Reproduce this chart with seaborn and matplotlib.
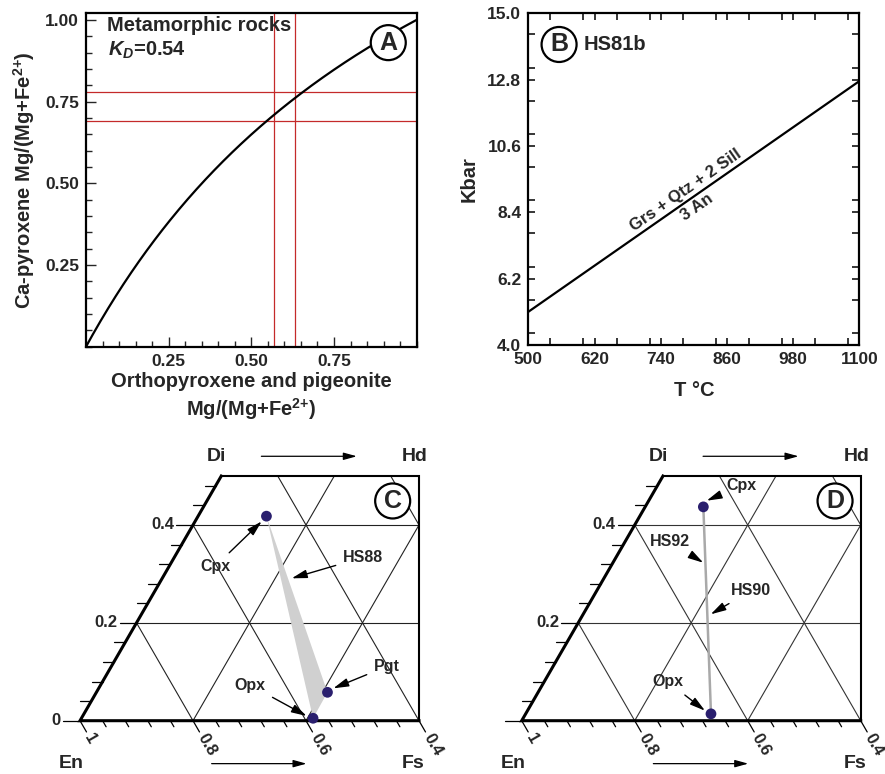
import numpy as np
import pandas as pd
import matplotlib
matplotlib.use("Agg")
import matplotlib.pyplot as plt
from matplotlib.ticker import MultipleLocator, FixedLocator, FormatStrFormatter
import seaborn as sns

# ---------------- data ----------------
# (A) Mg-Fe partitioning between Ca-pyroxene and low-Ca pyroxene
KD = 0.54
opx_mg_obs = [0.567, 0.633]          # vertical guide lines
cpx_mg_obs = [0.689, 0.780]          # horizontal guide lines
a_ticks_x = [0.25, 0.50, 0.75]
a_ticks_y = [0.25, 0.50, 0.75, 1.00]

# (B) Grs + Qtz + 2 Sill = 3 An reaction line (HS81b)
T_C = [500, 1100]
P_kbar = [5.10, 12.75]
b_ticks_x = [500, 620, 740, 860, 980, 1100]
b_ticks_y = [4.0, 6.2, 8.4, 10.6, 12.8, 15.0]

# (C) HS88 pyroxene compositions (Wo and Fs mole fractions)
hs88_phase = ["Cpx", "Opx", "Pgt"]
hs88_wo = [0.418, 0.005, 0.058]
hs88_fs = [0.121, 0.410, 0.409]

# (D) HS90 / HS92 pyroxene compositions
hs90_phase = ["Cpx", "Opx"]
hs90_wo = [0.437, 0.014]
hs90_fs = [0.103, 0.328]

# quadrilateral axes labels
wo_labels = [0.2, 0.4]
en_labels = ["1", "0.8", "0.6", "0.4"]

MG_FE = "Mg/(Mg+Fe$^{2{+}}$)"

# ---------------- style ----------------
sns.set_style("ticks")
plt.rcParams.update({
    "font.family": ["Liberation Sans", "DejaVu Sans"],
    "font.weight": "bold",
    "axes.labelweight": "bold",
    "mathtext.fontset": "custom",
    "mathtext.rm": "Liberation Sans:bold",
    "mathtext.bf": "Liberation Sans:bold",
    "mathtext.it": "Liberation Sans:italic:bold",
    "mathtext.default": "regular",
    "axes.linewidth": 1.6,
    "axes.edgecolor": "black",
})

W, H = 885, 774
fig = plt.figure(figsize=(W / 100, H / 100), dpi=100)


def px_axes(left, top, right, bottom):
    return fig.add_axes([left / W, 1 - bottom / H, (right - left) / W, (bottom - top) / H])


def circle_label(ax, x, y, s, transform):
    ax.text(x, y, s, transform=transform, ha="center", va="center",
            fontsize=18, fontweight="bold", zorder=10,
            bbox=dict(boxstyle="circle,pad=0.22", fc="white", ec="black", lw=1.6))


TICK_FS = 12.5
LABEL_FS = 14.5

# ---------------- panel A ----------------
axA = px_axes(86, 13.3, 416.7, 346.7)
opx_mg = np.linspace(0.0, 1.0, 300)
cpx_mg = opx_mg / (opx_mg + KD * (1 - opx_mg))
sns.lineplot(x=opx_mg, y=cpx_mg, ax=axA, color="black", lw=1.6, zorder=3)
for v in opx_mg_obs:
    axA.axvline(v, color="#c42a2a", lw=0.9, zorder=2)
for h in cpx_mg_obs:
    axA.axhline(h, color="#c42a2a", lw=0.9, zorder=2)
axA.set_xlim(0, 1.0)
axA.set_ylim(0, 1.02)
axA.xaxis.set_major_locator(FixedLocator(a_ticks_x))
axA.yaxis.set_major_locator(FixedLocator(a_ticks_y))
axA.xaxis.set_minor_locator(MultipleLocator(0.05))
axA.yaxis.set_minor_locator(MultipleLocator(0.05))
axA.xaxis.set_major_formatter(FormatStrFormatter("%.2f"))
axA.yaxis.set_major_formatter(FormatStrFormatter("%.2f"))
axA.tick_params(which="both", direction="in", top=False, right=False,
                labelsize=TICK_FS, width=1.0, pad=5)
axA.tick_params(which="major", length=7)
axA.tick_params(which="minor", length=4)
for lab in axA.get_xticklabels() + axA.get_yticklabels():
    lab.set_fontweight("bold")
axA.set_xlabel("Orthopyroxene and pigeonite\n" + MG_FE, fontsize=LABEL_FS,
               fontweight="bold", linespacing=1.25)
axA.xaxis.set_label_coords(0.5, -0.075)
axA.xaxis.label.set_va("top")
axA.set_ylabel("Ca-pyroxene " + MG_FE, fontsize=LABEL_FS, fontweight="bold")
axA.yaxis.set_label_coords(-0.148, 0.5)
axA.text(0.064, 0.962, "Metamorphic rocks", transform=axA.transAxes, fontsize=LABEL_FS,
         fontweight="bold", ha="left", va="center")
axA.text(0.066, 0.888, r"$\mathit{K}_{\mathit{D}}$=0.54", transform=axA.transAxes,
         fontsize=LABEL_FS, fontweight="bold", ha="left", va="center")
circle_label(axA, 0.914, 0.912, "A", axA.transAxes)

# ---------------- panel B ----------------
axB = px_axes(528.3, 13.3, 859.3, 345)
sns.lineplot(x=T_C, y=P_kbar, ax=axB, color="black", lw=1.6)
axB.set_xlim(500, 1100)
axB.set_ylim(4.0, 15.0)
axB.xaxis.set_major_locator(FixedLocator(b_ticks_x))
axB.yaxis.set_major_locator(FixedLocator(b_ticks_y))
axB.xaxis.set_minor_locator(MultipleLocator(60))
axB.yaxis.set_minor_locator(MultipleLocator(1.1))
axB.yaxis.set_major_formatter(FormatStrFormatter("%.1f"))
axB.tick_params(which="both", direction="in", top=True, right=True,
                labelsize=TICK_FS, width=1.3, length=5, pad=5)
for lab in axB.get_xticklabels() + axB.get_yticklabels():
    lab.set_fontweight("bold")
axB.set_xlabel("T °C", fontsize=LABEL_FS, fontweight="bold")
axB.xaxis.set_label_coords(0.5, -0.108)
axB.xaxis.label.set_va("top")
axB.set_ylabel("Kbar", fontsize=LABEL_FS, fontweight="bold")
axB.yaxis.set_label_coords(-0.15, 0.5)

p0 = axB.transData.transform((T_C[0], P_kbar[0]))
p1 = axB.transData.transform((T_C[1], P_kbar[1]))
ang = np.degrees(np.arctan2(p1[1] - p0[1], p1[0] - p0[0]))
t_lab = 795
p_lab = np.interp(t_lab, T_C, P_kbar)
nx, ny = -np.sin(np.radians(ang)), np.cos(np.radians(ang))
axB.annotate("Grs + Qtz + 2 Sill", xy=(t_lab, p_lab), xytext=(1.5 * nx, 1.5 * ny),
             textcoords="offset points", rotation=ang, rotation_mode="anchor",
             ha="center", va="bottom", fontsize=12, fontweight="bold")
axB.annotate("3 An", xy=(t_lab, p_lab), xytext=(-2 * nx, -2 * ny),
             textcoords="offset points", rotation=ang, rotation_mode="anchor",
             ha="center", va="top", fontsize=12, fontweight="bold")
circle_label(axB, 0.093, 0.906, "B", axB.transAxes)
axB.text(0.166, 0.9045, "HS81b", transform=axB.transAxes, fontsize=LABEL_FS,
         fontweight="bold", ha="left", va="center")

# ---------------- pyroxene quadrilateral helpers ----------------
S3 = np.sqrt(3) / 2
UNIT = 565.0  # pixels per composition unit


def to_xy(wo, fs):
    wo = np.asarray(wo, dtype=float)
    fs = np.asarray(fs, dtype=float)
    return fs + wo / 2, wo * S3


def quad_axes(ox, oy, left, right, top=420, bottom=774):
    ax = px_axes(left, top, right, bottom)
    ax.set_xlim((left - ox) / UNIT, (right - ox) / UNIT)
    ax.set_ylim((oy - bottom) / UNIT, (oy - top) / UNIT)
    ax.set_axis_off()
    return ax


def draw_quad(ax, show_zero, grid_color="#222222"):
    kw = dict(color=grid_color, lw=0.8, zorder=1, solid_capstyle="butt")
    # constant Wo
    for w in wo_labels:
        x0, y0 = to_xy(w, 0)
        ax.plot([x0, 0.6], [y0, y0], **kw)
    # constant Fs
    for f in [0.2, 0.4]:
        wmax = min(0.5, 2 * (0.6 - f))
        xs, ys = to_xy([0, wmax], [f, f])
        ax.plot(xs, ys, **kw)
    # constant En
    for e in [0.8, 0.6, 0.4, 0.2]:
        s = 1 - e
        if s <= 0.6:
            w0, f0 = 0.0, s
        else:
            w0 = 2 * (s - 0.6)
            f0 = s - w0
        w1 = min(s, 0.5)
        f1 = s - w1
        xs, ys = to_xy([w0, w1], [f0, f1])
        ax.plot(xs, ys, **kw)
    # outline
    top_y = 0.5 * S3
    ax.plot([0.25, 0.0, 0.6], [top_y, 0.0, 0.0], color="black", lw=2.2, zorder=4,
            solid_joinstyle="miter", solid_capstyle="projecting")
    ax.plot([0.25, 0.6, 0.6], [top_y, top_y, 0.0], color="black", lw=1.5, zorder=4,
            solid_joinstyle="miter")
    # Wo ticks along the left edge
    for k in range(0, 13):
        w = round(0.04 * k, 2)
        x0, y0 = to_xy(w, 0)
        labelled = any(abs(w - v) < 1e-6 for v in wo_labels) or k == 0
        L = (17 if labelled else 11) / UNIT
        ax.plot([x0 - L, x0], [y0, y0], color="black", lw=0.9, zorder=4, clip_on=False)
        if labelled and (k > 0 or show_zero):
            txt = "0" if k == 0 else f"{w:.1f}"
            ax.text(x0 - L - 2 / UNIT, y0, txt, ha="right", va="center",
                    fontsize=12, fontweight="bold")
    # En ticks along the base
    dx, dy = 0.5, -S3
    for k in range(0, 16):
        f = round(0.04 * k, 2)
        labelled = k % 5 == 0
        L = (13 if labelled else 7) / UNIT
        ax.plot([f, f + dx * L], [0, dy * L], color="black", lw=0.9, zorder=4, clip_on=False)
        if labelled:
            g = (L * UNIT + 3) / UNIT
            ax.text(f + dx * g, dy * g, en_labels[k // 5], rotation=-60,
                    rotation_mode="anchor", ha="left", va="center",
                    fontsize=12, fontweight="bold")
    # end-member labels and arrows
    ax.text(0.242, 0.468, "Di", ha="center", va="center", fontsize=14, fontweight="bold")
    ax.text(0.593, 0.468, "Hd", ha="center", va="center", fontsize=14, fontweight="bold")
    ax.text(-0.015, -0.075, "En", ha="center", va="center", fontsize=14, fontweight="bold")
    ax.text(0.590, -0.075, "Fs", ha="center", va="center", fontsize=14, fontweight="bold")
    ar = dict(arrowstyle="-|>,head_length=0.8,head_width=0.22", color="black", lw=0.9,
              shrinkA=0, shrinkB=0)
    ax.annotate("", xy=(0.490, 0.468), xytext=(0.321, 0.468), arrowprops=ar)
    ax.annotate("", xy=(0.401, -0.076), xytext=(0.233, -0.076), arrowprops=ar)


def note(ax, text, text_xy, tip_xy):
    ax.annotate(text, xy=tip_xy, xytext=text_xy, ha="center", va="center",
                fontsize=11.5, fontweight="bold", zorder=6,
                arrowprops=dict(arrowstyle="-|>,head_length=0.8,head_width=0.22",
                                color="black", lw=1.0, shrinkA=3, shrinkB=0))


POINT_COLOR = "#2a1f6e"

# ---------------- panel C ----------------
axC = quad_axes(80, 720.7, 0, 440)
draw_quad(axC, show_zero=True)
cx, cy = to_xy(hs88_wo, hs88_fs)
dfC = pd.DataFrame({"x": cx, "y": cy, "phase": hs88_phase})
axC.fill(dfC["x"], dfC["y"], color="#d0d0d0", lw=0, zorder=2)
sns.scatterplot(data=dfC, x="x", y="y", ax=axC, color=POINT_COLOR, s=60,
                edgecolor="none", zorder=5, legend=False)
note(axC, "Cpx", (0.239, 0.273), (0.3216, 0.3528))
note(axC, "HS88", (0.501, 0.289), (0.3747, 0.252))
note(axC, "Pgt", (0.543, 0.096), (0.4483, 0.0573))
note(axC, "Opx", (0.301, 0.063), (0.4012, 0.0083))
circle_label(axC, 0.5534, 0.3889, "C", axC.transData)

# ---------------- panel D ----------------
axD = quad_axes(521.7, 720.7, 442, 885)
draw_quad(axD, show_zero=False, grid_color="#333333")
dx_, dy_ = to_xy(hs90_wo, hs90_fs)
dfD = pd.DataFrame({"x": dx_, "y": dy_, "phase": hs90_phase})
sns.lineplot(data=dfD, x="x", y="y", ax=axD, sort=False, color="#a9a9a9", lw=1.8, zorder=3)
sns.scatterplot(data=dfD, x="x", y="y", ax=axD, color=POINT_COLOR, s=60,
                edgecolor="none", zorder=5, legend=False)
note(axD, "Cpx", (0.389, 0.416), (0.3274, 0.3894))
note(axD, "HS92", (0.2625, 0.3168), (0.3214, 0.2796))
note(axD, "HS90", (0.4058, 0.2301), (0.3345, 0.1883))
note(axD, "Opx", (0.2584, 0.069), (0.3244, 0.0177))
circle_label(axD, 0.5546, 0.3889, "D", axD.transData)

fig.savefig("out.png", dpi=100)
